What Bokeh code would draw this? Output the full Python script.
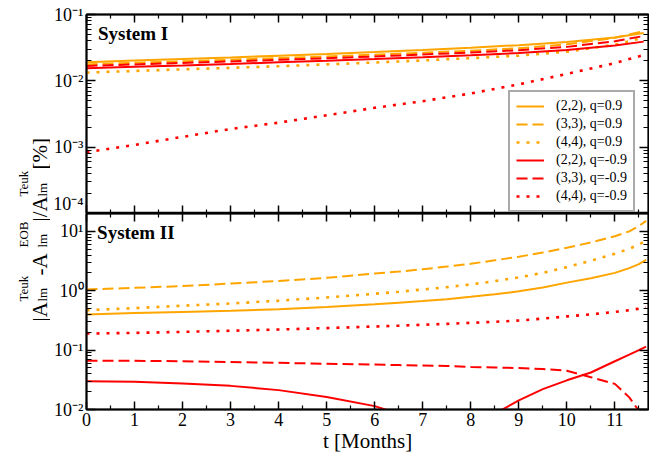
import math
from bokeh.plotting import figure
from bokeh.models import (FixedTicker, LogAxis, LinearAxis, Legend, LegendItem, Label, Range1d,
                          CustomJSTickFormatter)
from bokeh.layouts import row, column
from bokeh.embed import file_html
from bokeh.resources import INLINE

# ---------------- data ----------------
# System I  (top panel)
t_sys1 = [0, 1, 2, 3, 4, 5, 6, 7, 8, 9, 10, 11, 11.6]
sys1_22_qp = [0.0191, 0.0202, 0.0213, 0.0225, 0.0239, 0.0254, 0.0271, 0.0291, 0.0316, 0.0345, 0.0385, 0.0450, 0.0527]
sys1_33_qp = [0.0177, 0.0187, 0.0197, 0.0208, 0.0220, 0.0233, 0.0248, 0.0265, 0.0285, 0.0310, 0.0355, 0.0445, 0.0560]
sys1_44_qp = [0.0133, 0.0141, 0.0149, 0.0157, 0.0166, 0.0177, 0.0189, 0.0203, 0.0220, 0.0240, 0.0275, 0.0350, 0.0450]
sys1_22_qm = [0.0155, 0.0163, 0.0171, 0.0180, 0.0190, 0.0201, 0.0213, 0.0227, 0.0243, 0.0262, 0.0292, 0.0342, 0.0390]
sys1_33_qm = [0.0168, 0.0177, 0.0186, 0.0196, 0.0207, 0.0219, 0.0233, 0.0249, 0.0268, 0.0290, 0.0325, 0.0395, 0.0474]
sys1_44_qm = [0.00084, 0.00108, 0.00143, 0.00188, 0.00234, 0.00302, 0.00392, 0.00493, 0.00645, 0.00885, 0.0127, 0.0185, 0.0245]

# System II (bottom panel)
t_sys2 = [0, 1, 2, 3, 4, 5, 6, 6.5, 7, 7.5, 8, 8.5, 9, 9.5, 10, 10.5, 11, 11.3, 11.5, 11.65]
sys2_22_qp = [0.40, 0.42, 0.44, 0.46, 0.49, 0.53, 0.59, 0.63, 0.67, 0.72, 0.79, 0.87, 0.98, 1.13, 1.37, 1.63, 2.0, 2.4, 2.8, 3.3]
sys2_33_qp = [1.05, 1.12, 1.20, 1.32, 1.46, 1.65, 1.95, 2.1, 2.3, 2.55, 2.85, 3.25, 3.75, 4.4, 5.3, 6.5, 8.3, 10.0, 12.3, 15.0]
sys2_44_qp = [0.47, 0.51, 0.56, 0.61, 0.68, 0.77, 0.89, 0.96, 1.05, 1.15, 1.28, 1.45, 1.68, 2.0, 2.5, 3.2, 4.2, 5.1, 6.0, 7.0]
sys2_22_qm = [0.030, 0.0292, 0.0275, 0.0250, 0.0212, 0.0163, 0.0114, 0.0085, 0.005, 0.0015, 0.003, 0.0085, 0.0142, 0.022, 0.031, 0.042, 0.065, 0.084, 0.100, 0.115]
sys2_33_qm = [0.066, 0.066, 0.065, 0.063, 0.061, 0.059, 0.057, 0.056, 0.055, 0.054, 0.052, 0.051, 0.050, 0.048, 0.045, 0.035, 0.027, 0.016, 0.0095, 0.004]
sys2_44_qm = [0.19, 0.195, 0.203, 0.212, 0.222, 0.235, 0.25, 0.258, 0.267, 0.277, 0.288, 0.30, 0.315, 0.34, 0.37, 0.40, 0.44, 0.47, 0.50, 0.52]

legend_labels = ["(2,2), q=0.9", "(3,3), q=0.9", "(4,4), q=0.9",
                 "(2,2), q=-0.9", "(3,3), q=-0.9", "(4,4), q=-0.9"]

x_ticks = list(range(0, 12))
x_minor = [i + 0.5 for i in range(0, 12)]
y1_ticks = [1e-4, 1e-3, 1e-2, 1e-1]
y1_labels = ["10\u207b\u2074", "10\u207b\u00b3", "10\u207b\u00b2", "10\u207b\u00b9"]
y2_ticks = [1e-2, 1e-1, 1e0, 1e1]
y2_labels = ["10\u207b\u00b2", "10\u207b\u00b9", "10\u2070", "10\u00b9"]

ORANGE = "#FFA500"
RED = "#FF0000"
FONT = "Liberation Serif"
SOLID, DASH, DOT = "solid", "11 5", "3 7"


def minor_log(e0, e1):
    return [k * 10.0 ** e for e in range(e0, e1 + 1) for k in range(2, 10)]


def style_axis(ax, major_len, minor_len, labels):
    ax.axis_line_width = 2
    ax.axis_line_color = "black"
    ax.major_tick_in = major_len
    ax.major_tick_out = 0
    ax.minor_tick_in = minor_len
    ax.minor_tick_out = 0
    ax.major_tick_line_width = 1.5
    ax.minor_tick_line_width = 1.2
    ax.major_tick_line_color = "black"
    ax.minor_tick_line_color = "black"
    if labels:
        ax.major_label_text_font = FONT
        ax.major_label_text_font_size = "18px"
        ax.major_label_text_color = "black"
        ax.major_label_standoff = 3
    else:
        ax.formatter = CustomJSTickFormatter(code="return ''")
        ax.major_label_text_font_size = "1px"
        ax.major_label_standoff = 0


LW = 50          # width of the strip that carries the rotated y label
BORDER_L = 36    # left border of the panels (tick labels)


def make_panel(ylo, yhi, height, top_border, yt, ylabs, yminor, show_x_labels):
    p = figure(width=BORDER_L + 562 + 1, height=height,
               x_range=Range1d(0, 11.7), y_range=Range1d(ylo, yhi),
               y_axis_type="log", output_backend="svg", toolbar_location=None,
               min_border_left=BORDER_L, min_border_right=1,
               min_border_top=top_border, min_border_bottom=0)
    p.grid.visible = False
    p.outline_line_color = "black"
    p.outline_line_width = 1.5
    p.background_fill_color = "white"
    p.border_fill_color = "white"

    xt = FixedTicker(ticks=x_ticks, minor_ticks=x_minor)
    ytk = FixedTicker(ticks=yt, minor_ticks=yminor)
    overrides = {v: s for v, s in zip(yt, ylabs)}

    xa = p.below[0]
    xa.ticker = xt
    style_axis(xa, 8, 4, show_x_labels)
    ya = p.left[0]
    ya.ticker = ytk
    ya.major_label_overrides = overrides
    style_axis(ya, 9, 5, True)

    top_ax = LinearAxis(ticker=xt)
    style_axis(top_ax, 8, 4, False)
    p.add_layout(top_ax, "above")
    right_ax = LogAxis(ticker=ytk)
    style_axis(right_ax, 9, 5, False)
    p.add_layout(right_ax, "right")
    return p, xa


TOP_H, BOT_H = 213, 242
top, _ = make_panel(1e-4, 1e-1, TOP_H, 14, y1_ticks, y1_labels, minor_log(-4, -2), False)
bot, bot_x = make_panel(1e-2, 20, BOT_H, 0, y2_ticks, y2_labels, minor_log(-2, 1), True)
bot_x.axis_label = "t [Months]"
bot_x.axis_label_text_font = FONT
bot_x.axis_label_text_font_size = "21px"
bot_x.axis_label_text_font_style = "normal"
bot_x.axis_label_text_color = "black"
bot_x.axis_label_standoff = 0

series1 = [(sys1_22_qp, ORANGE, SOLID), (sys1_33_qp, ORANGE, DASH), (sys1_44_qp, ORANGE, DOT),
           (sys1_22_qm, RED, SOLID), (sys1_33_qm, RED, DASH), (sys1_44_qm, RED, DOT)]
series2 = [(sys2_22_qp, ORANGE, SOLID), (sys2_33_qp, ORANGE, DASH), (sys2_44_qp, ORANGE, DOT),
           (sys2_22_qm, RED, SOLID), (sys2_33_qm, RED, DASH), (sys2_44_qm, RED, DOT)]

items = []
for (vals, col, dash), lab in zip(series1, legend_labels):
    w = 2.6 if dash == DOT else 2
    r = top.line(t_sys1, vals, line_color=col, line_width=w, line_dash=dash)
    items.append(LegendItem(label=lab, renderers=[r]))
for vals, col, dash in series2:
    w = 2.6 if dash == DOT else 2
    bot.line(t_sys2, vals, line_color=col, line_width=w, line_dash=dash)

legend = Legend(items=items, location=(422, 1))
legend.border_line_color = "#555555"
legend.border_line_width = 2
legend.background_fill_color = "white"
legend.background_fill_alpha = 1
legend.label_text_font = FONT
legend.label_text_font_size = "14px"
legend.label_text_color = "black"
legend.glyph_width = 28
legend.glyph_height = 16
legend.label_height = 16
legend.spacing = 2
legend.padding = 6
legend.label_standoff = 12
legend.margin = 0
top.add_layout(legend)

top.add_layout(Label(x=0.24, y=0.051, text="System I", text_font=FONT, text_font_size="19px",
                     text_font_style="bold", text_baseline="middle", text_color="black"))
bot.add_layout(Label(x=0.22, y=9.7, text="System II", text_font=FONT, text_font_size="19px",
                     text_font_style="bold", text_baseline="middle", text_color="black"))

# ---------------- rotated y-axis label ----------------
H = TOP_H + BOT_H
labfig = figure(width=LW, height=H, x_range=Range1d(0, LW), y_range=Range1d(0, H),
                x_axis_type=None, y_axis_type=None, output_backend="svg",
                toolbar_location=None, min_border=0)
labfig.outline_line_color = None
labfig.grid.visible = False

# (text, page y where text starts (bottom end), page x of baseline, font px)
pieces = [
    ("|A", 321, 39, 21),
    ("Teuk", 301, 23, 13), ("lm", 301, 42, 13),
    (" -A", 275, 39, 21),
    ("EOB", 247, 23, 13), ("lm", 247, 42, 13),
    ("|/A", 221, 39, 21),
    ("Teuk", 196, 23, 13), ("lm", 196, 42, 13),
    (" [%]", 169, 39, 21),
]
for txt, py, px, fs in pieces:
    labfig.add_layout(Label(x=px, y=H - py, text=txt, angle=math.pi / 2,
                            text_font=FONT, text_font_size=f"{fs}px", text_color="black",
                            text_align="left", text_baseline="alphabetic"))

layout = row(labfig, column(top, bot))
open("out.html", "w").write(file_html(layout, INLINE))
